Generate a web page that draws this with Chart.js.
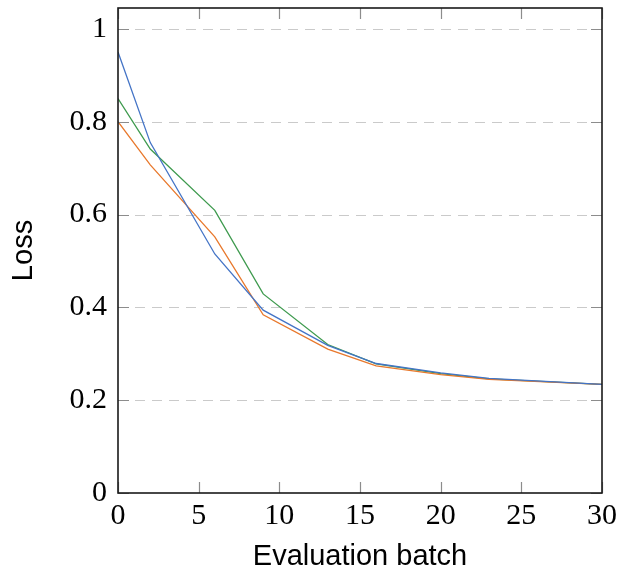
<!DOCTYPE html>
<html>
<head>
<meta charset="utf-8">
<script src="https://cdn.jsdelivr.net/npm/chart.js@4/dist/chart.umd.min.js"></script>
<style>
  html, body { margin: 0; padding: 0; background: #fff; }
  #wrap { width: 619px; height: 574px; position: relative; }
</style>
</head>
<body>
<div id="wrap"><canvas id="c" width="619" height="574"></canvas></div>
<script>
// Evaluation batches and loss per run
const batches = [0, 2, 6, 9, 13, 16, 20, 23, 30];
const lossBlue   = [0.950, 0.755, 0.515, 0.394, 0.318, 0.279, 0.259, 0.247, 0.234];
const lossOrange = [0.800, 0.707, 0.552, 0.384, 0.310, 0.274, 0.255, 0.245, 0.234];
const lossGreen  = [0.850, 0.741, 0.609, 0.429, 0.320, 0.278, 0.257, 0.246, 0.234];
const xTicks = [0, 5, 10, 15, 20, 25, 30];
const yTicks = [0, 0.2, 0.4, 0.6, 0.8, 1];
const yGrid  = [0.2, 0.4, 0.6, 0.8, 1];

const toPoints = ys => batches.map((x, i) => ({ x: x, y: ys[i] }));

const serif = "'Liberation Serif', 'DejaVu Serif', serif";
const sans  = "'Liberation Sans', 'DejaVu Sans', sans-serif";

// Dashed grid behind the lines, frame and inward tick marks on top
const framePlugin = {
  id: 'frame',
  beforeDatasetsDraw(chart) {
    const { ctx, chartArea: a, scales: { y } } = chart;
    ctx.save();
    ctx.strokeStyle = '#cacaca';
    ctx.lineWidth = 1.2;
    ctx.setLineDash([10, 7]);
    yGrid.forEach(v => {
      const py = Math.round(y.getPixelForValue(v)) + 0.5;
      ctx.beginPath();
      ctx.moveTo(a.left, py);
      ctx.lineTo(a.right, py);
      ctx.stroke();
    });
    ctx.restore();
  },
  afterDatasetsDraw(chart) {
    const { ctx, chartArea: a, scales: { x, y } } = chart;
    const len = 11;
    ctx.save();
    ctx.strokeStyle = '#8c8c8c';
    ctx.lineWidth = 1.2;
    xTicks.forEach(v => {
      const px = Math.round(x.getPixelForValue(v)) + 0.5;
      ctx.beginPath();
      ctx.moveTo(px, a.bottom); ctx.lineTo(px, a.bottom - len);
      ctx.moveTo(px, a.top);    ctx.lineTo(px, a.top + len);
      ctx.stroke();
    });
    yTicks.forEach(v => {
      const py = Math.round(y.getPixelForValue(v)) + 0.5;
      ctx.beginPath();
      ctx.moveTo(a.left, py);  ctx.lineTo(a.left + len, py);
      ctx.moveTo(a.right, py); ctx.lineTo(a.right - len, py);
      ctx.stroke();
    });
    ctx.strokeStyle = '#1a1a1a';
    ctx.lineWidth = 1.6;
    ctx.strokeRect(a.left, a.top, a.right - a.left, a.bottom - a.top);
    ctx.restore();
  }
};

const lineStyle = color => ({
  borderColor: color,
  backgroundColor: color,
  borderWidth: 1.3,
  pointRadius: 0,
  tension: 0,
  fill: false
});

const noEdgePadding = s => {
  s.paddingTop = 0; s.paddingBottom = 0;
  s.paddingLeft = 0; s.paddingRight = 0;
};

new Chart(document.getElementById('c'), {
  type: 'line',
  data: {
    datasets: [
      Object.assign({ label: 'run A', data: toPoints(lossBlue) },   lineStyle('#4474c6')),
      Object.assign({ label: 'run B', data: toPoints(lossOrange) }, lineStyle('#e8782c')),
      Object.assign({ label: 'run C', data: toPoints(lossGreen) },  lineStyle('#3e9a4e'))
    ]
  },
  options: {
    responsive: false,
    animation: false,
    devicePixelRatio: 1,
    layout: { padding: { left: 0, right: 17, top: 8, bottom: 0 } },
    plugins: { legend: { display: false }, tooltip: { enabled: false } },
    scales: {
      x: {
        type: 'linear',
        min: 0, max: 30,
        afterBuildTicks: s => { s.ticks = xTicks.map(v => ({ value: v })); },
        afterFit: s => { s.height = 81; noEdgePadding(s); },
        grid: { display: false, drawTicks: false },
        border: { display: false },
        ticks: {
          color: '#000',
          font: { family: serif, size: 30 },
          padding: 5,
          maxRotation: 0,
          callback: v => String(v)
        },
        title: {
          display: true,
          text: 'Evaluation batch',
          color: '#000',
          font: { family: sans, size: 29 },
          padding: { top: 5, bottom: 0 }
        }
      },
      y: {
        type: 'linear',
        min: 0, max: 1.045,
        afterBuildTicks: s => { s.ticks = yTicks.map(v => ({ value: v })); },
        afterFit: s => { s.width = 118; noEdgePadding(s); },
        grid: { display: false, drawTicks: false },
        border: { display: false },
        ticks: {
          color: '#000',
          font: { family: serif, size: 30 },
          padding: 11,
          callback: v => String(Math.round(v * 10) / 10)
        },
        title: {
          display: true,
          text: 'Loss',
          color: '#000',
          font: { family: sans, size: 29 },
          padding: { top: 7, bottom: 0 }
        }
      }
    }
  },
  plugins: [framePlugin]
});
</script>
</body>
</html>
